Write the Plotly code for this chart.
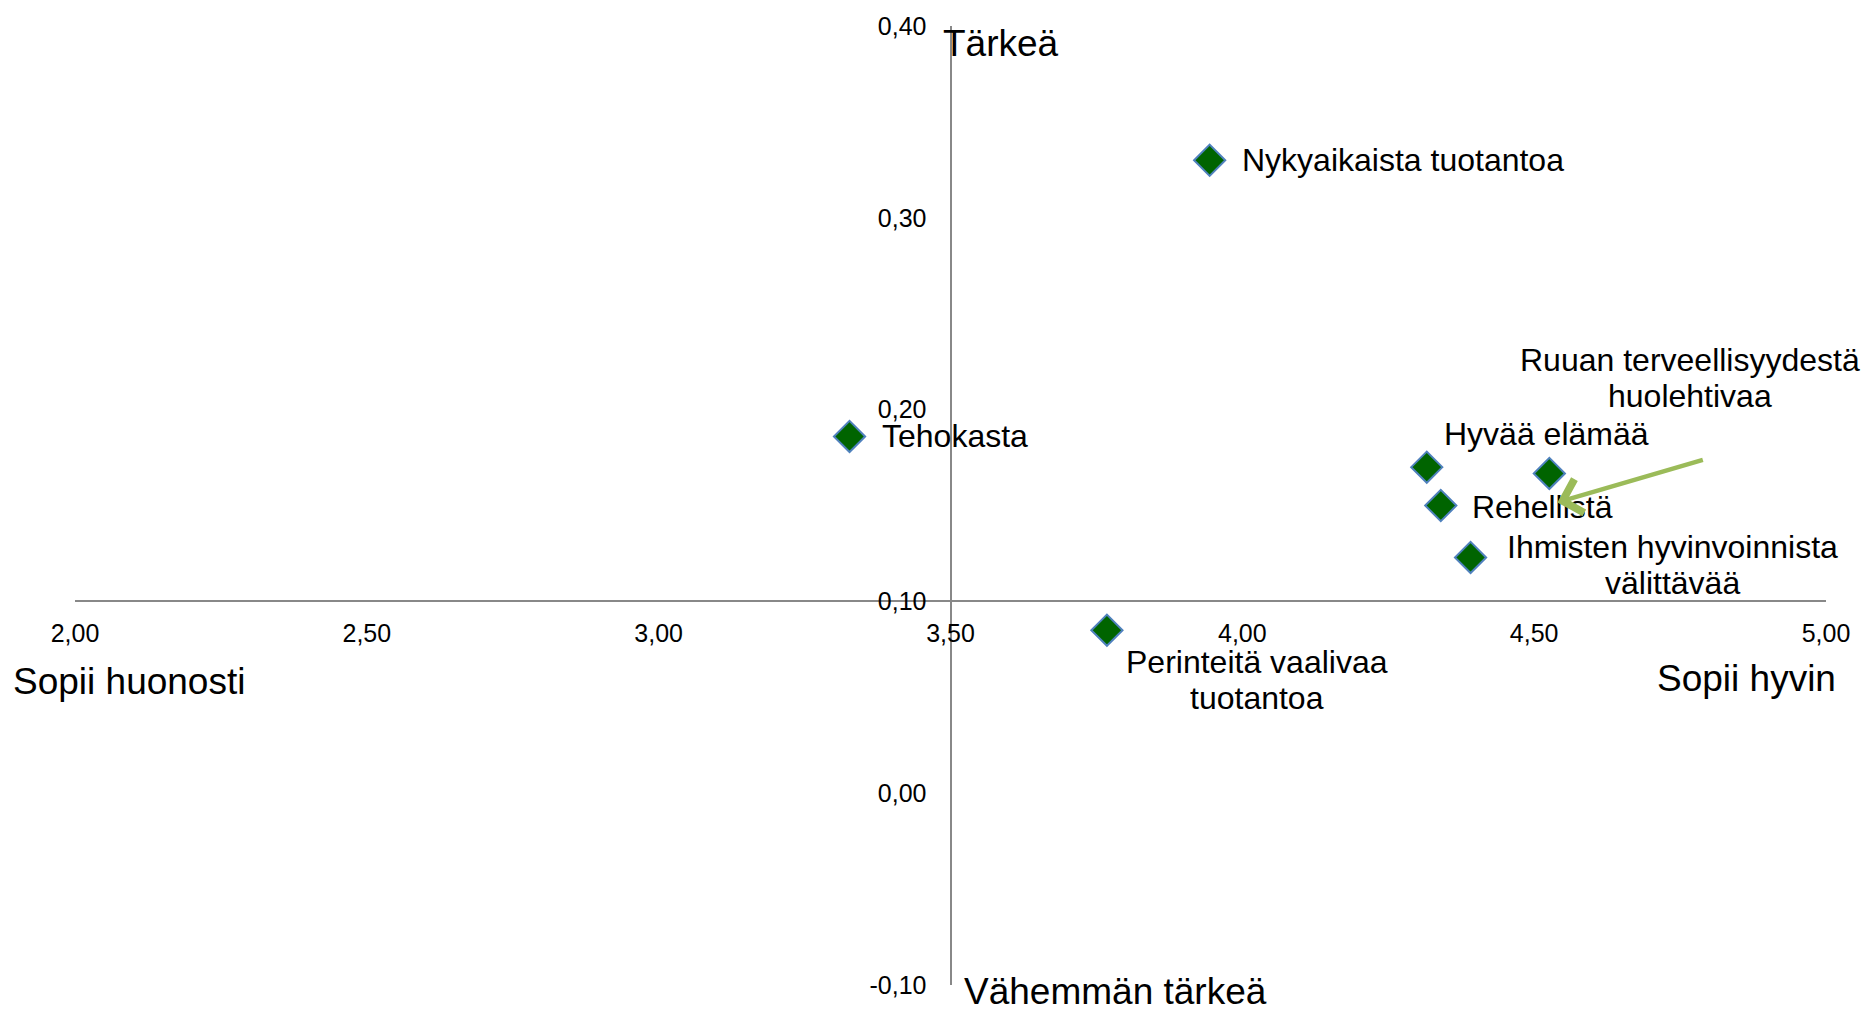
import plotly.graph_objects as go

# ---- data ----
labels = [
    "Nykyaikaista tuotantoa",
    "Tehokasta",
    "Hyvää elämää",
    "Ruuan terveellisyydestä<br>huolehtivaa",
    "Rehellistä",
    "Ihmisten hyvinvoinnista<br>välittävää",
    "Perinteitä vaalivaa<br>tuotantoa",
]
fit_score = [3.944, 3.327, 4.316, 4.526, 4.340, 4.391, 3.768]      # x: Sopii huonosti .. Sopii hyvin
importance = [0.330, 0.1860, 0.170, 0.1667, 0.150, 0.1229, 0.085]  # y: Vähemmän tärkeä .. Tärkeä

x_tickvals = [2.0, 2.5, 3.0, 3.5, 4.0, 4.5, 5.0]
x_ticktext = ["2,00", "2,50", "3,00", "3,50", "4,00", "4,50", "5,00"]
y_tickvals = [-0.1, 0.0, 0.1, 0.2, 0.3, 0.4]
y_ticktext = ["-0,10", "0,00", "0,10", "0,20", "0,30", "0,40"]

# ---- label placement (style only): anchor, x offset, y offset of first line (px) ----
label_place = [
    dict(xanchor="left", xshift=30, yshift=0),
    dict(xanchor="left", xshift=30, yshift=0),
    dict(xanchor="left", xshift=15, yshift=33),
    dict(xanchor="center", xshift=141, yshift=113),
    dict(xanchor="left", xshift=29, yshift=-1),
    dict(xanchor="center", xshift=202, yshift=10),
    dict(xanchor="center", xshift=150, yshift=-32),
]
LINE_STEP = 35.5

FONT = "Liberation Sans, Arial, sans-serif"
AXIS_COLOR = "#888888"

fig = go.Figure()
fig.add_trace(go.Scatter(
    x=fit_score, y=importance, mode="markers",
    marker=dict(symbol="diamond", size=24, color="#006400",
                line=dict(color="#4f81bd", width=2)),
    hoverinfo="skip", showlegend=False,
))

annotations = []
for i, lab in enumerate(labels):
    p = label_place[i]
    for j, line in enumerate(lab.split("<br>")):
        annotations.append(dict(
            x=fit_score[i], y=importance[i], xref="x", yref="y", text=line,
            showarrow=False, xanchor=p["xanchor"], xshift=p["xshift"],
            yanchor="middle", yshift=p["yshift"] - j * LINE_STEP,
            font=dict(family=FONT, size=32, color="black"),
        ))

# arrow pointing to "Ruuan terveellisyydestä huolehtivaa"
ri = 3
annotations.append(dict(
    x=fit_score[ri], y=importance[ri], xref="x", yref="y", text="",
    xshift=8, yshift=-29, showarrow=True, ax=147, ay=-43,
    arrowhead=4, arrowwidth=4.5, arrowsize=1.5, arrowcolor="#9bbb59",
))

# quadrant labels
QFONT = dict(family=FONT, size=37, color="black")
annotations += [
    dict(text="Tärkeä", xref="x", x=3.5, xanchor="left", xshift=-10,
         yref="paper", y=1, yanchor="middle", yshift=-17, showarrow=False, font=QFONT),
    dict(text="Vähemmän tärkeä", xref="x", x=3.5, xanchor="left", xshift=11,
         yref="paper", y=0, yanchor="middle", yshift=-6, showarrow=False, font=QFONT),
    dict(text="Sopii huonosti", xref="paper", x=0, xanchor="left", xshift=-64,
         yref="y", y=0.1, yanchor="middle", yshift=-80, showarrow=False, font=QFONT),
    dict(text="Sopii hyvin", xref="paper", x=1, xanchor="right", xshift=12,
         yref="y", y=0.1, yanchor="middle", yshift=-77, showarrow=False, font=QFONT),
]

fig.update_layout(
    width=1867, height=1011,
    margin=dict(l=75, r=41, t=24, b=23),
    paper_bgcolor="white", plot_bgcolor="white",
    font=dict(family=FONT, size=25, color="black"),
    annotations=annotations,
    xaxis=dict(range=[2, 5], anchor="free", position=0.4,
               tickvals=x_tickvals, ticktext=x_ticktext,
               showline=True, linecolor=AXIS_COLOR, linewidth=2,
               showgrid=False, zeroline=False, ticks="",
               ticklabelstandoff=10, tickfont=dict(size=25, color="black")),
    yaxis=dict(range=[-0.1, 0.4], anchor="free", position=0.5,
               tickvals=y_tickvals, ticktext=y_ticktext,
               showline=True, linecolor=AXIS_COLOR, linewidth=2,
               showgrid=False, zeroline=False, ticks="",
               ticklabelstandoff=18, tickfont=dict(size=25, color="black")),
)

fig.write_html("out.html", config={"displayModeBar": False},
               post_script="document.body.style.margin='0';document.body.style.overflow='hidden';")
